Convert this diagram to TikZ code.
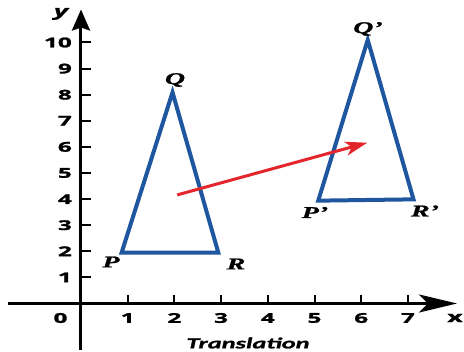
\documentclass[tikz,border=0pt]{standalone}
\usepackage{fontspec}
\usetikzlibrary{arrows.meta}
\newfontfamily\numfont[FakeStretch=1.8,FakeBold=1.6]{Open Sans}
\newfontfamily\labfont[FakeStretch=1.7,FakeBold=1.2]{Liberation Serif}
\newfontfamily\capfont[FakeStretch=1.7,FakeBold=1.4]{Carlito}
\definecolor{triblue}{HTML}{1E56A0}
\definecolor{arrred}{HTML}{E3262B}
\tikzset{
  axis/.style={line width=3pt,black},
  tick/.style={line width=2pt,black},
  tri/.style={line width=4pt,triblue,line join=miter},
  mover/.style={line width=3pt,arrred,-{Stealth[length=22pt,width=14pt,inset=6pt]}},
  num/.style={font=\numfont\bfseries\fontsize{13.5}{13.5}\selectfont,inner sep=0pt},
  lab/.style={font=\labfont\bfseries\itshape\fontsize{16.5}{16.5}\selectfont,inner sep=0pt},
}
\begin{document}
\begin{tikzpicture}[x=46.7pt,y=26.1pt]
\useasboundingbox (-81pt,-48.5pt) rectangle (383pt,303.5pt);
% axes
\coordinate (xs) at (-73pt,0);
\coordinate (xe) at (376pt,0);
\coordinate (ys) at (0,-46.5pt);
\coordinate (ye) at (0,294pt);
\draw[axis,-{Stealth[length=38pt,width=18pt,inset=9pt]}] (xs) -- (xe);
\draw[axis,-{Stealth[length=21pt,width=18pt,inset=3pt]}] (ys) -- (ye);
% ticks
\foreach \i in {1,...,7} {
  \draw[tick] (\i,0) -- ++(0,8pt);
  \node[num] (xl\i) at (\i,-14.5pt) {\i};
}
\foreach \j in {1,...,10} {
  \draw[tick] (0,\j) -- ++(10pt,0);
  \node[num,anchor=east] (yl\j) at (-9pt,\j) {\j};
}
\node[num] (o) at (-20.5pt,-14.5pt) {0};
\node[num,font=\numfont\bfseries\fontsize{15}{15}\selectfont] (xlab) at (374pt,-14.5pt) {x};
\node[num,font=\numfont\bfseries\itshape\fontsize{15}{15}\selectfont] (ylab) at (-20pt,289.5pt) {y};
% triangles
\coordinate (P) at (0.87,1.95);
\coordinate (Q) at (1.96,8.09);
\coordinate (R) at (2.94,1.95);
\coordinate (P1) at (5.08,3.94);
\coordinate (Q1) at (6.14,10.1);
\coordinate (R1) at (7.12,3.99);
\draw[tri] (P) -- (Q) -- (R) -- cycle;
\draw[tri] (P1) -- (Q1) -- (R1) -- cycle;
\node[lab] (Pl) at (30pt,41.5pt) {P};
\node[lab] (Ql) at (94pt,223.5pt) {Q};
\node[lab] (Rl) at (155pt,39.5pt) {R};
\node[lab] (P1l) at (234pt,91pt) {P’};
\node[lab] (Q1l) at (287pt,274.5pt) {Q’};
\node[lab] (R1l) at (344pt,92.5pt) {R’};
% translation arrow
\coordinate (A) at (2.06,4.16);
\coordinate (B) at (6.13,6.16);
\draw[mover] (A) -- (B);
\node[font=\capfont\bfseries\itshape\fontsize{15.5}{15.5}\selectfont,inner sep=0pt] (cap) at (167pt,-39.5pt) {Translation};
\end{tikzpicture}
\end{document}
